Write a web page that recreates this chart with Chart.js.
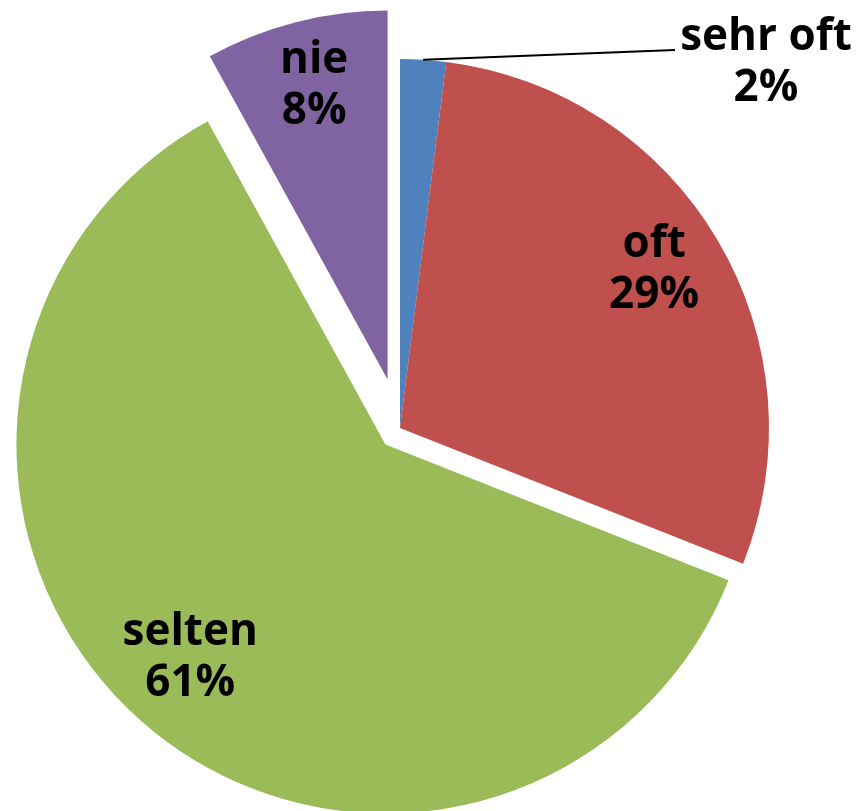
<!DOCTYPE html>
<html>
<head>
<meta charset="utf-8">
<script src="https://cdn.jsdelivr.net/npm/chart.js@4"></script>
<style>
  html, body { margin: 0; padding: 0; background: #fff; }
  #wrap { width: 862px; height: 811px; position: relative; }
</style>
</head>
<body>
<div id="wrap"><canvas id="pieChart"></canvas></div>
<script>
// Answer categories and their shares (percent)
const categories = ['sehr oft', 'oft', 'selten', 'nie'];
const shares = [2, 29, 61, 8];
const sliceColors = ['#4F81BD', '#C0504D', '#9BBB59', '#8064A2'];
// how far each slice is pulled out of the pie (px)
const explode = [0, 0, 22, 50];

// Chart.js' own "offset" also grows the slice radius, so pull slices out
// by moving each arc's centre for the duration of the dataset draw
const pullSlices = {
    id: 'pullSlices',
    beforeDatasetDraw(chart, args, opts) {
        args.meta.data.forEach((arc, i) => {
            const d = opts.amounts[i] || 0;
            const mid = (arc.startAngle + arc.endAngle) / 2;
            arc._home = { x: arc.x, y: arc.y };
            arc.x += Math.cos(mid) * d;
            arc.y += Math.sin(mid) * d;
        });
    },
    afterDatasetDraw(chart, args) {
        args.meta.data.forEach(arc => {
            if (arc._home) {
                arc.x = arc._home.x;
                arc.y = arc._home.y;
            }
        });
    }
};

// Draws "name / xx%" labels; slice 0 gets an outside label with a leader line
const pieLabels = {
    id: 'pieLabels',
    afterDatasetsDraw(chart, args, opts) {
        const ctx = chart.ctx;
        const meta = chart.getDatasetMeta(0);
        const data = chart.data.datasets[0].data;
        const total = data.reduce((a, b) => a + b, 0);
        ctx.save();
        ctx.font = 'bold 44px "Open Sans", sans-serif';
        ctx.fillStyle = '#000';
        ctx.textAlign = 'center';
        ctx.textBaseline = 'middle';
        meta.data.forEach((arc, i) => {
            const mid = (arc.startAngle + arc.endAngle) / 2;
            const off = explode[i] || 0;
            const cx = arc.x + Math.cos(mid) * off;
            const cy = arc.y + Math.sin(mid) * off;
            const pct = Math.round(data[i] / total * 100) + '%';
            let lx, ly;
            if (opts.outside && opts.outside.index === i) {
                lx = opts.outside.x;
                ly = opts.outside.y;
                // leader line from the slice edge to the label
                ctx.beginPath();
                ctx.strokeStyle = '#000';
                ctx.lineWidth = 2;
                ctx.moveTo(cx + Math.cos(mid) * arc.outerRadius, cy + Math.sin(mid) * arc.outerRadius);
                ctx.lineTo(opts.outside.lineX, opts.outside.lineY);
                ctx.stroke();
            } else {
                lx = cx + Math.cos(mid) * arc.outerRadius * opts.factor;
                ly = cy + Math.sin(mid) * arc.outerRadius * opts.factor + opts.dy;
            }
            ctx.fillText(chart.data.labels[i], lx, ly - opts.lineGap / 2);
            ctx.fillText(pct, lx, ly + opts.lineGap / 2);
        });
        ctx.restore();
    }
};

new Chart(document.getElementById('pieChart').getContext('2d'), {
    type: 'pie',
    data: {
        labels: categories,
        datasets: [{
            data: shares,
            backgroundColor: sliceColors,
            borderWidth: 0
        }]
    },
    options: {
        responsive: true,
        maintainAspectRatio: false,
        animation: false,
        radius: 369,
        layout: {
            padding: { left: 0, right: 62, top: 45, bottom: 0 }
        },
        plugins: {
            legend: { display: false },
            tooltip: { enabled: false },
            pullSlices: { amounts: explode },
            pieLabels: {
                factor: 0.8,
                dy: -8,
                lineGap: 51,
                outside: { index: 0, x: 766, y: 63, lineX: 675, lineY: 50 }
            }
        }
    },
    plugins: [pullSlices, pieLabels]
});
</script>
</body>
</html>
